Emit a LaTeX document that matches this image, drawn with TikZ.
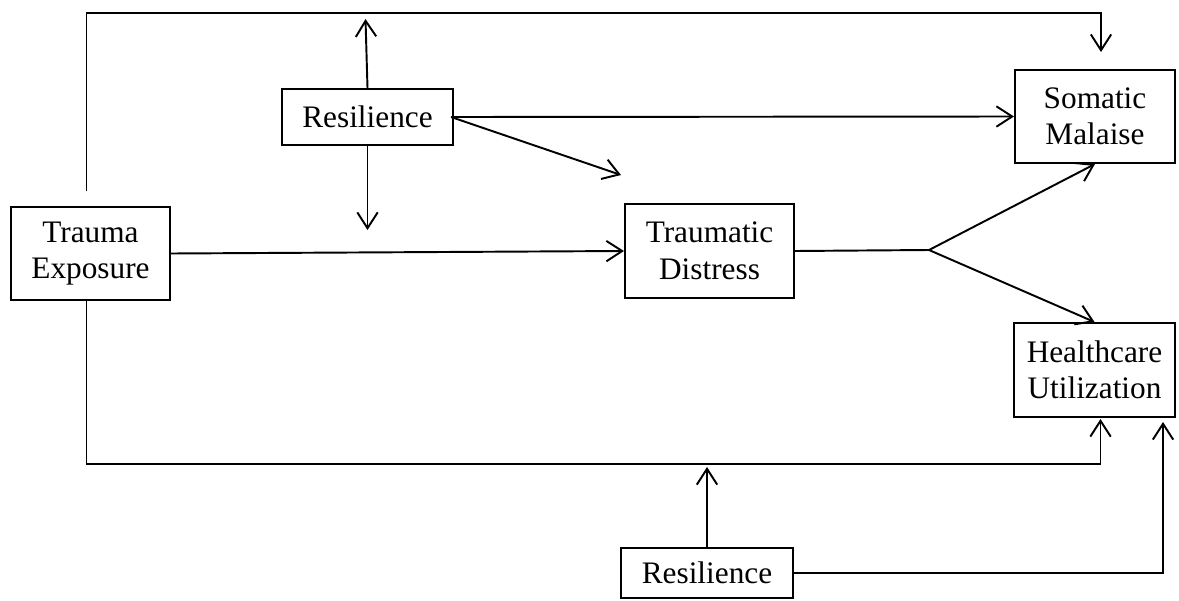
\documentclass[tikz,border=0pt]{standalone}
\usepackage{fontspec}
\setmainfont{Liberation Serif}
\usepackage{tikz}
\usetikzlibrary{arrows.meta, calc}

\begin{document}
\begin{tikzpicture}[x=0.01cm, y=-0.01cm,
    varbox/.style={draw, line width=0.55pt, align=center, inner sep=0pt,
        font=\fontsize{8.9}{10.4}\selectfont},
    link/.style={line width=0.55pt, -{Straight Barb[length=4.5pt, width=5.8pt]}}]
    \useasboundingbox (0,0) rectangle (1179,600);

    % Boxes
    \node[varbox, minimum width=1.59cm, minimum height=0.93cm] (trauma) at (90.5,253.5) {Trauma\\Exposure};
    \node[varbox, minimum width=1.71cm, minimum height=0.56cm] (resil1) at (367.5,117) {Resilience};
    \node[varbox, minimum width=1.69cm, minimum height=0.94cm] (distress) at (709.5,251) {Traumatic\\Distress};
    \node[varbox, minimum width=1.60cm, minimum height=0.93cm] (somatic) at (1095,116.5) {Somatic\\Malaise};
    \node[varbox, minimum width=1.61cm, minimum height=0.94cm] (health) at (1094.5,370) {Healthcare\\Utilization};
    \node[varbox, minimum width=1.72cm, minimum height=0.50cm] (resil2) at (707,573) {Resilience};

    % Top loop from trauma exposure to somatic malaise
    \draw[link] ($(trauma.north)+(-4,-15)$) |- ($(somatic.north)+(6,-56)$) -- ($(somatic.north)+(6,-17)$);

    % Upper resilience paths
    \draw[link] (resil1.north) -- ++(-2,-69);
    \draw[link] (resil1.south) -- ++(0,84);
    \draw[link] (resil1.east) -- (somatic.west);
    \draw[link] ($(resil1.east)+(-3,0)$) -- (621,175);

    % Main path
    \draw[link] (trauma.east) -- (distress.west);
    \coordinate (branch) at (929,250);
    \draw[line width=0.55pt] (distress.east) -- (branch);
    \draw[link] (branch) -- (somatic.south);
    \draw[link] (branch) -- (health.north);

    % Bottom loop from trauma exposure to healthcare utilization
    \draw[link] ($(trauma.south)+(-4,0)$) |- ($(health.south)+(6,46)$) -- ($(health.south)+(6,1)$);

    % Lower resilience paths
    \draw[link] (resil2.north) -- ++(0,-80);
    \draw[link] (resil2.east) -| ($(health.south east)+(-13,4)$);
\end{tikzpicture}
\end{document}
